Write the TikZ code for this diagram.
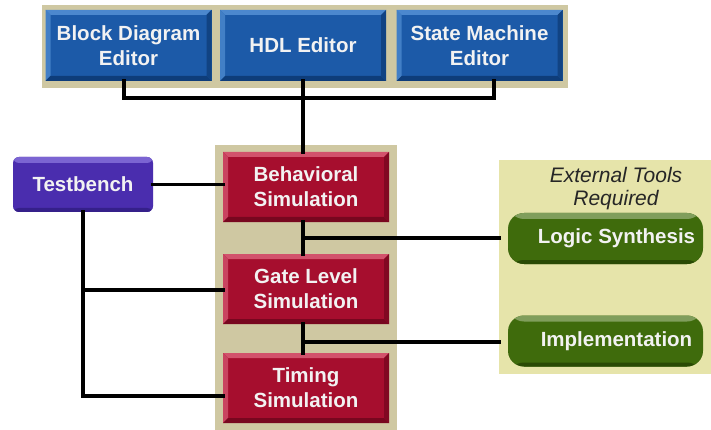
\documentclass[tikz,border=0pt]{standalone}
\usepackage{fontspec}
\setmainfont{Liberation Sans}
\begin{document}
\begin{tikzpicture}[x=1pt,y=-1pt]
\definecolor{tanbg}{HTML}{CFC8A2}
\definecolor{ylbg}{HTML}{E6E4AA}
\definecolor{bluebase}{HTML}{1C5AA8}
\definecolor{bluelight}{HTML}{4C88CE}
\definecolor{bluedark}{HTML}{0E3D7A}
\definecolor{redbase}{HTML}{A60E2E}
\definecolor{redlight}{HTML}{D2526C}
\definecolor{reddark}{HTML}{78071F}
\definecolor{purpbase}{HTML}{4A2DAE}
\definecolor{purplight}{HTML}{7B64D2}
\definecolor{purpdark}{HTML}{35208A}
\definecolor{grnbase}{HTML}{3F6B0C}
\definecolor{grnlight}{HTML}{809E5C}
\definecolor{grndark}{HTML}{2A4A05}
\definecolor{txtw}{HTML}{F2F2F2}
\tikzset{
  lbl/.style={font=\fontsize{20.5}{25}\selectfont\bfseries, text=txtw, align=center, inner sep=0pt},
  rectbev/.style n args={3}{lbl, rectangle, fill=#1, path picture={
    \coordinate (@nw) at (path picture bounding box.north west);
    \coordinate (@ne) at (path picture bounding box.north east);
    \coordinate (@sw) at (path picture bounding box.south west);
    \coordinate (@se) at (path picture bounding box.south east);
    \fill[#2] (@nw) -- (@ne) -- ([xshift=-5pt,yshift=-5pt]@ne) -- ([xshift=5pt,yshift=-5pt]@nw) -- cycle;
    \fill[#2!80!#1] (@nw) -- ([xshift=5pt,yshift=-5pt]@nw) -- ([xshift=5pt,yshift=5pt]@sw) -- (@sw) -- cycle;
    \fill[#3] (@sw) -- (@se) -- ([xshift=-5pt,yshift=5pt]@se) -- ([xshift=5pt,yshift=5pt]@sw) -- cycle;
    \fill[#3!80!#1] (@ne) -- ([xshift=-5pt,yshift=-5pt]@ne) -- ([xshift=-5pt,yshift=5pt]@se) -- (@se) -- cycle;
  }},
  roundbev/.style n args={4}{lbl, rectangle, rounded corners=#4, fill=#1, path picture={
    \coordinate (@nw) at (path picture bounding box.north west);
    \coordinate (@se) at (path picture bounding box.south east);
    \fill[#2] (@nw) rectangle ([yshift=-6pt]@nw -| @se);
    \fill[#3] ([yshift=4pt]@se -| @nw) rectangle (@se);
  }},
  editor/.style={rectbev={bluebase}{bluelight}{bluedark}, minimum width=166pt, minimum height=71pt},
  sim/.style={rectbev={redbase}{redlight}{reddark}, minimum width=166pt, minimum height=70pt},
  tool/.style={roundbev={grnbase}{grnlight}{grndark}{16pt}, minimum width=195pt, minimum height=51pt},
  conn/.style={draw=black, line width=3.5pt, line cap=rect},
}
\useasboundingbox[fill=white] (0,0) rectangle (711,430);
% backgrounds
\fill[tanbg] (42,5) rectangle (568,88);
\fill[tanbg] (215,145) rectangle (397,430);
\node[fill=ylbg, minimum width=212pt, minimum height=214pt, inner sep=0pt, anchor=north west] (ext) at (499,160) {};
% editors
\node[editor] (bde) at (128.5,45.5) {Block Diagram\\Editor};
\node[editor] (hdl) at (303,45.5) {HDL Editor};
\node[editor] (sme) at (479.5,45.5) {State Machine\\Editor};
% simulations
\node[sim] (beh) at (306,187) {Behavioral\\Simulation};
\node[sim] (gate) at (306,289) {Gate Level\\Simulation};
\node[sim] (tim) at (306,388) {Timing\\Simulation};
% testbench
\node[roundbev={purpbase}{purplight}{purpdark}{6pt}, minimum width=140pt, minimum height=55pt] (tb) at (83,184.5) {Testbench};
% external tools
\node[font=\fontsize{21}{23}\selectfont\itshape, text=black!85, align=center, inner sep=0pt] (exttitle) at (616,189) {External Tools\\Required};
\node[tool] (ls) at (605.5,238.5) {\hspace*{22pt}Logic Synthesis};
\node[tool] (impl) at (605.5,341) {\hspace*{22pt}Implementation};
% connectors
\coordinate (bus) at (0,98);
\draw[conn] ([xshift=-4.5pt]bde.south) -- ([xshift=-4.5pt]bde.south |- bus) -- ([xshift=14.5pt]sme.south |- bus) -- ([xshift=14.5pt]sme.south);
\draw[conn] (hdl.south) -- (hdl.south |- beh.north);
\draw[conn] (hdl.south |- beh.south) -- (hdl.south |- gate.north);
\draw[conn] (hdl.south |- gate.south) -- (hdl.south |- tim.north);
\coordinate (j1) at (303,238);
\coordinate (j2) at (303,342);
\draw[conn] (j1) -- (j1 -| ext.west);
\draw[conn] (j2) -- (j2 -| ext.west);
\draw[conn] (tb.east) -- (tb.east -| beh.west);
\draw[conn] (tb.south) -- (tb.south |- 0,396) -- (tim.west |- 0,396);
\draw[conn] (tb.south |- 0,290) -- (gate.west |- 0,290);
\end{tikzpicture}
\end{document}
